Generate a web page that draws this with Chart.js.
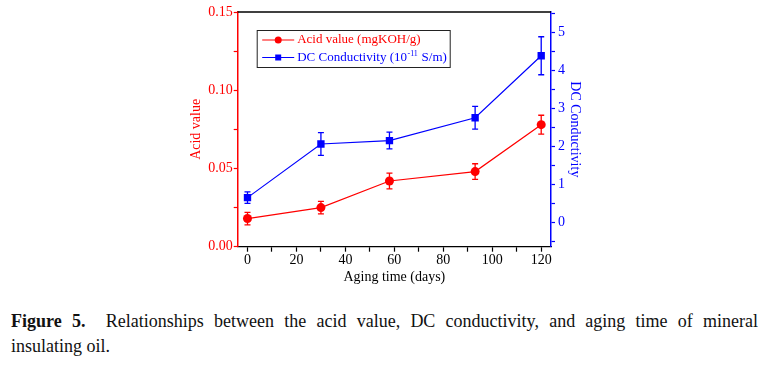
<!DOCTYPE html>
<html>
<head>
<meta charset="utf-8">
<script src="https://cdn.jsdelivr.net/npm/chart.js@4.4.0/dist/chart.umd.min.js"></script>
<style>
    body { margin: 0; background: #fff; width: 783px; height: 366px; position: relative; overflow: hidden; }
    #wrap { position: absolute; left: 0; top: 0; width: 783px; height: 290px; }
    .cap { position: absolute; left: 11px; width: 747px; font-family: "Liberation Serif", serif; font-size: 18px; line-height: 24px; color: #111; }
    #cap1 { top: 309px; text-align: justify; text-align-last: justify; }
    #cap2 { top: 334px; }
</style>
</head>
<body>
<div id="wrap"><canvas id="agingChart"></canvas></div>
<div class="cap" id="cap1"><b>Figure 5.</b>&nbsp; Relationships between the acid value, DC conductivity, and aging time of mineral</div>
<div class="cap" id="cap2">insulating oil.</div>

<script>
// dados
const days = [0, 30, 58, 93, 120];
const acidValue = [0.018, 0.025, 0.042, 0.048, 0.078];
const acidErr = [0.004, 0.004, 0.005, 0.005, 0.006];
const conductivity = [0.65, 2.06, 2.15, 2.75, 4.38];
const condErr = [0.15, 0.30, 0.22, 0.30, 0.50];

// marcas dos eixos (as menores ficam sem texto)
const xTickValues = [0, 10, 20, 30, 40, 50, 60, 70, 80, 90, 100, 110, 120];
const acidTickValues = [0, 0.025, 0.05, 0.075, 0.1, 0.125, 0.15];
const condTickValues = [-0.5, 0, 0.5, 1, 1.5, 2, 2.5, 3, 3.5, 4, 4.5, 5, 5.5];

const RED = '#ff0000';
const BLUE = '#0000ff';
const serif = 'Liberation Serif';

function toPoints(xs, ys) {
    return xs.map((x, i) => ({ x: x, y: ys[i] }));
}

// barras de erro desenhadas a partir das escalas
const errorBars = {
    id: 'errorBars',
    beforeDatasetsDraw(chart) {
        const ctx = chart.ctx;
        const xs = chart.scales.x;
        const sets = [
            { scale: chart.scales.y, vals: acidValue, errs: acidErr, color: RED },
            { scale: chart.scales.y1, vals: conductivity, errs: condErr, color: BLUE }
        ];
        ctx.save();
        ctx.lineWidth = 1.3;
        sets.forEach(s => {
            ctx.strokeStyle = s.color;
            days.forEach((d, i) => {
                const px = xs.getPixelForValue(d);
                const top = s.scale.getPixelForValue(s.vals[i] + s.errs[i]);
                const bot = s.scale.getPixelForValue(s.vals[i] - s.errs[i]);
                ctx.beginPath();
                ctx.moveTo(px, top); ctx.lineTo(px, bot);
                ctx.moveTo(px - 3, top); ctx.lineTo(px + 3, top);
                ctx.moveTo(px - 3, bot); ctx.lineTo(px + 3, bot);
                ctx.stroke();
            });
        });
        ctx.restore();
    }
};

// linha de cima e legenda em caixa
const frameAndLegend = {
    id: 'frameAndLegend',
    afterDraw(chart) {
        const ctx = chart.ctx;
        const a = chart.chartArea;
        ctx.save();
        ctx.strokeStyle = '#000';
        ctx.lineWidth = 1.3;
        ctx.beginPath();
        ctx.moveTo(a.left, a.top);
        ctx.lineTo(a.right, a.top);
        ctx.stroke();

        const bx = a.left + 19.5, by = a.top + 18.5, bw = 193, bh = 37;
        ctx.lineWidth = 1;
        ctx.strokeStyle = '#222';
        ctx.strokeRect(bx, by, bw, bh);

        const rows = [
            { y: by + 9.5, color: RED, style: 'circle' },
            { y: by + 27, color: BLUE, style: 'rect' }
        ];
        ctx.font = '13px "' + serif + '"';
        ctx.textBaseline = 'middle';
        rows.forEach((r, i) => {
            ctx.strokeStyle = r.color;
            ctx.fillStyle = r.color;
            ctx.lineWidth = 1.2;
            ctx.beginPath();
            ctx.moveTo(bx + 5, r.y); ctx.lineTo(bx + 37, r.y);
            ctx.stroke();
            if (r.style === 'circle') {
                ctx.beginPath();
                ctx.arc(bx + 21, r.y, 3.5, 0, Math.PI * 2);
                ctx.fill();
            } else {
                ctx.fillRect(bx + 18, r.y - 3, 6, 6);
            }
            let tx = bx + 40;
            if (i === 0) {
                ctx.fillText('Acid value (mgKOH/g)', tx, r.y);
            } else {
                const part1 = 'DC Conductivity (10';
                ctx.fillText(part1, tx, r.y);
                tx += ctx.measureText(part1).width;
                ctx.font = '8px "' + serif + '"';
                ctx.fillText('-11', tx + 0.5, r.y - 4);
                tx += ctx.measureText('-11').width + 1;
                ctx.font = '13px "' + serif + '"';
                ctx.fillText(' S/m)', tx, r.y);
            }
        });
        ctx.restore();
    }
};

document.addEventListener('DOMContentLoaded', () => {
    const ctx = document.getElementById('agingChart').getContext('2d');
    const tickFont = { family: serif, size: 14 };

    new Chart(ctx, {
        type: 'line',
        data: {
            datasets: [{
                label: 'Acid value (mgKOH/g)',
                data: toPoints(days, acidValue),
                yAxisID: 'y',
                borderColor: RED,
                backgroundColor: RED,
                borderWidth: 1.2,
                pointStyle: 'circle',
                pointRadius: 4.5,
                pointBorderWidth: 0,
                fill: false,
                tension: 0
            }, {
                label: 'DC Conductivity',
                data: toPoints(days, conductivity),
                yAxisID: 'y1',
                borderColor: BLUE,
                backgroundColor: BLUE,
                borderWidth: 1.2,
                pointStyle: 'rect',
                pointRadius: 5.2,
                pointBorderWidth: 0,
                fill: false,
                tension: 0
            }]
        },
        options: {
            responsive: true,
            maintainAspectRatio: false,
            animation: false,
            layout: { padding: { left: 187.7, right: 200, top: 12, bottom: 4.3 } },
            plugins: {
                legend: { display: false },
                tooltip: { enabled: false }
            },
            scales: {
                x: {
                    type: 'linear',
                    min: -4,
                    max: 124,
                    afterBuildTicks: axis => { axis.ticks = xTickValues.map(v => ({ value: v })); },
                    afterFit: axis => { axis.height = 39; },
                    ticks: {
                        color: '#000',
                        font: tickFont,
                        padding: 0,
                        maxRotation: 0,
                        autoSkip: false,
                        callback: v => (v % 20 === 0 ? String(v) : '')
                    },
                    grid: { drawOnChartArea: false, drawTicks: true, tickLength: 5, color: '#000', tickWidth: 1.2 },
                    border: { color: '#000', width: 1.3 },
                    title: { display: true, text: 'Aging time (days)', color: '#000', font: tickFont, padding: 0 }
                },
                y: {
                    position: 'left',
                    min: 0,
                    max: 0.15,
                    afterBuildTicks: axis => { axis.ticks = acidTickValues.map(v => ({ value: v })); },
                    afterFit: axis => { axis.width = 50; },
                    ticks: {
                        color: RED,
                        font: tickFont,
                        padding: 1,
                        autoSkip: false,
                        callback: (v, i) => (i % 2 === 0 ? v.toFixed(2) : '')
                    },
                    grid: { drawOnChartArea: false, drawTicks: true, tickLength: 4, color: RED, tickWidth: 1.2 },
                    border: { color: RED, width: 1.5 },
                    title: { display: true, text: 'Acid value', color: RED, font: tickFont, padding: 0 }
                },
                y1: {
                    position: 'right',
                    min: -0.64,
                    max: 5.53,
                    afterBuildTicks: axis => { axis.ticks = condTickValues.map(v => ({ value: v })); },
                    afterFit: axis => { axis.width = 32; },
                    ticks: {
                        color: BLUE,
                        font: tickFont,
                        padding: 3,
                        autoSkip: false,
                        callback: v => (Number.isInteger(v) ? String(v) : '')
                    },
                    grid: { drawOnChartArea: false, drawTicks: true, tickLength: 4, color: BLUE, tickWidth: 1.2 },
                    border: { color: BLUE, width: 1.5 },
                    title: { display: true, text: 'DC Conductivity', color: BLUE, font: tickFont, padding: 0 }
                }
            }
        },
        plugins: [errorBars, frameAndLegend]
    });
});
</script>
</body>
</html>
